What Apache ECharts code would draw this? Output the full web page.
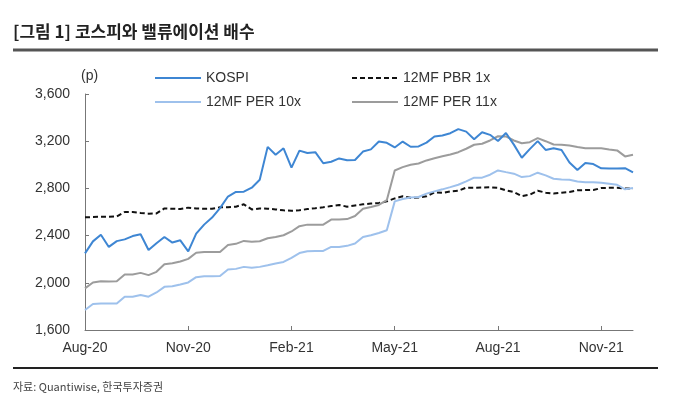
<!DOCTYPE html>
<html>
<head>
<meta charset="utf-8">
<script src="https://cdn.jsdelivr.net/npm/echarts@6/dist/echarts.min.js"></script>
<style>
html,body{margin:0;padding:0;background:#fff;}
#chart{width:679px;height:403px;}
</style>
</head>
<body>
<div id="chart"></div>
<script>
const weeks = ['2020-07-31','2020-08-07','2020-08-14','2020-08-21','2020-08-28','2020-09-04','2020-09-11','2020-09-18','2020-09-25','2020-10-02',
'2020-10-09','2020-10-16','2020-10-23','2020-10-30','2020-11-06','2020-11-13','2020-11-20','2020-11-27','2020-12-04','2020-12-11',
'2020-12-18','2020-12-25','2021-01-01','2021-01-08','2021-01-15','2021-01-22','2021-01-29','2021-02-05','2021-02-12','2021-02-19',
'2021-02-26','2021-03-05','2021-03-12','2021-03-19','2021-03-26','2021-04-02','2021-04-09','2021-04-16','2021-04-23','2021-04-30',
'2021-05-07','2021-05-14','2021-05-21','2021-05-28','2021-06-04','2021-06-11','2021-06-18','2021-06-25','2021-07-02','2021-07-09',
'2021-07-16','2021-07-23','2021-07-30','2021-08-06','2021-08-13','2021-08-20','2021-08-27','2021-09-03','2021-09-10','2021-09-17',
'2021-09-24','2021-10-01','2021-10-08','2021-10-15','2021-10-22','2021-10-29','2021-11-05','2021-11-12','2021-11-19','2021-11-26'];

const tickLabels = ['Aug-20','Nov-20','Feb-21','May-21','Aug-21','Nov-21'];
const yTicks = [1600, 2000, 2400, 2800, 3200, 3600];

const kospi = [2249,2351,2407,2304,2353,2368,2396,2412,2278,2335,
2388,2341,2360,2267,2416,2493,2553,2633,2731,2770,
2772,2806,2873,3152,3085,3140,2976,3120,3100,3107,
3013,3026,3054,3039,3041,3112,3131,3198,3186,3147,
3197,3153,3156,3188,3240,3249,3268,3302,3281,3217,
3276,3254,3202,3270,3171,3060,3133,3201,3126,3140,
3125,3019,2956,3015,3006,2970,2969,2968,2971,2936];

const pbr1x = [2555,2557,2560,2560,2562,2600,2600,2592,2586,2588,
2630,2628,2625,2637,2630,2628,2628,2640,2640,2645,
2665,2622,2630,2628,2622,2614,2610,2614,2625,2632,
2640,2650,2660,2645,2655,2665,2672,2676,2690,2715,
2733,2720,2722,2733,2767,2762,2775,2780,2806,2806,
2808,2810,2805,2784,2769,2735,2747,2780,2764,2756,
2764,2770,2784,2786,2786,2803,2805,2805,2800,2800];

const per10x = [1769,1820,1825,1825,1825,1882,1882,1896,1882,1918,
1966,1970,1986,2003,2048,2056,2056,2058,2113,2118,
2135,2127,2135,2149,2164,2177,2212,2252,2268,2270,
2270,2304,2304,2313,2333,2389,2403,2422,2445,2690,
2710,2722,2727,2756,2775,2792,2811,2831,2859,2891,
2891,2916,2952,2938,2925,2896,2904,2933,2910,2882,
2876,2874,2859,2853,2853,2848,2840,2831,2792,2803];

const per11x = [1953,2003,2014,2010,2014,2071,2071,2084,2065,2093,
2158,2165,2180,2203,2255,2262,2262,2262,2320,2330,
2355,2347,2352,2378,2389,2403,2435,2480,2493,2493,
2493,2536,2536,2540,2566,2628,2643,2660,2700,2952,
2980,3000,3011,3037,3056,3073,3088,3107,3136,3170,
3178,3206,3242,3240,3206,3183,3192,3226,3200,3172,
3170,3164,3150,3141,3141,3141,3130,3122,3071,3085];

const FONT = '"Liberation Sans", Arial, "Noto Sans CJK KR", sans-serif';
const KFONT = '"Noto Sans CJK KR", "Liberation Sans", sans-serif';
const chart = echarts.init(document.getElementById('chart'), null, {renderer: 'canvas'});

const legendBase = {
  orient: 'vertical', top: 66, padding: 5,
  itemWidth: 46, itemHeight: 14, itemGap: 10,
  itemStyle: {opacity: 0},
  textStyle: {fontFamily: FONT, fontSize: 14, color: '#333'}
};

const option = {
  backgroundColor: '#ffffff',
  animation: false,
  grid: {left: 85, right: 46, top: 94, bottom: 73, containLabel: false},
  legend: [
    Object.assign({data: ['KOSPI', '12MF PER 10x'], left: 149}, legendBase),
    Object.assign({data: ['12MF PBR 1x', '12MF PER 11x'], left: 346}, legendBase)
  ],
  xAxis: {
    type: 'category',
    data: weeks,
    boundaryGap: false,
    axisLine: {lineStyle: {color: '#777', width: 1}},
    axisTick: {inside: true, length: 4, interval: 12, lineStyle: {color: '#777'}},
    axisLabel: {
      interval: 12, margin: 11,
      fontFamily: FONT, fontSize: 14, color: '#333',
      formatter: function (v, idx) { return tickLabels[Math.round(idx / 13)]; }
    },
    splitLine: {show: false}
  },
  yAxis: {
    type: 'value',
    min: yTicks[0], max: yTicks[yTicks.length - 1], interval: 400,
    axisLine: {show: true, lineStyle: {color: '#777', width: 1}},
    axisTick: {show: true, inside: true, length: 4, lineStyle: {color: '#777'}},
    axisLabel: {
      margin: 15, fontFamily: FONT, fontSize: 14, color: '#333',
      formatter: function (v) { return v.toLocaleString('en-US'); }
    },
    splitLine: {show: false}
  },
  series: [
    {name: '12MF PBR 1x', type: 'line', data: pbr1x, symbol: 'none',
     lineStyle: {color: '#111', width: 2, type: [5, 3]}, itemStyle: {color: '#111'}},
    {name: '12MF PER 10x', type: 'line', data: per10x, symbol: 'none',
     lineStyle: {color: '#9EC1EC', width: 2}, itemStyle: {color: '#9EC1EC'}},
    {name: '12MF PER 11x', type: 'line', data: per11x, symbol: 'none',
     lineStyle: {color: '#9C9C9C', width: 2}, itemStyle: {color: '#9C9C9C'}},
    {name: 'KOSPI', type: 'line', data: kospi, symbol: 'none',
     lineStyle: {color: '#3E86D3', width: 2}, itemStyle: {color: '#3E86D3'}}
  ],
  graphic: [
    {type: 'text', left: 13, top: 23,
     style: {text: '[그림 1] 코스피와 밸류에이션 배수', font: 'bold 17px ' + KFONT, fill: '#222'}},
    {type: 'line', shape: {x1: 13, y1: 50, x2: 658, y2: 50}, style: {stroke: '#555', lineWidth: 3}},
    {type: 'text', left: 81, top: 69,
     style: {text: '(p)', font: '14px ' + FONT, fill: '#333'}},
    {type: 'line', shape: {x1: 13, y1: 368, x2: 658, y2: 368}, style: {stroke: '#222', lineWidth: 2}},
    {type: 'text', left: 13, top: 381,
     style: {text: '자료: Quantiwise, 한국투자증권', font: '11px ' + KFONT, fill: '#444'}}
  ]
};
chart.setOption(option);
</script>
</body>
</html>
